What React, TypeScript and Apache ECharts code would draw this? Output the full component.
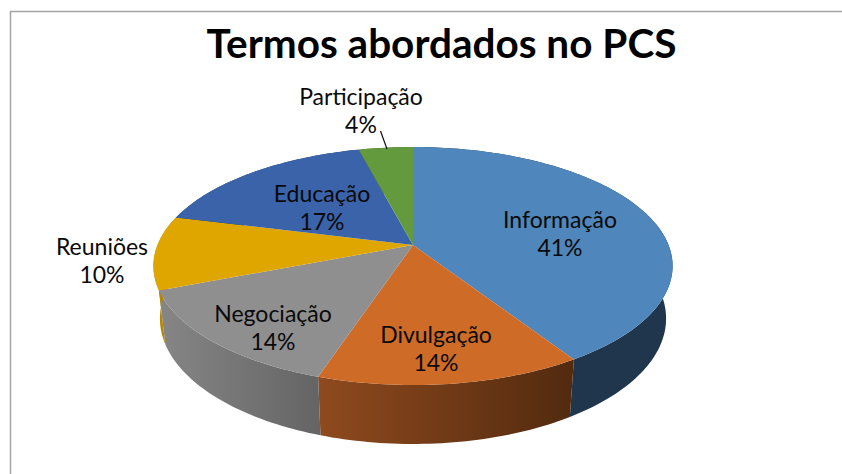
import React, { useEffect, useRef } from "react";
import * as echarts from "echarts";

const categories = ["Informação", "Divulgação", "Negociação", "Reuniões", "Educação", "Participação"];
const percents = [41, 14, 14, 10, 17, 4];

// Layout of the tilted pie (not data)
const CX = 413;
const CY = 245;
const RX = 255.5;
const RY = 115.3;
const PERSP = 0.1765;
const DEPTH = 51.4;
const BOTTOM_SX = 0.975;
const BOTTOM_SY = 1.054;

const topColors = ["#4F86BB", "#CE6B27", "#8F8F8F", "#E0A600", "#3A63A9", "#629A3D"];
const sideColors: any[] = [
  "#20364D",
  new echarts.graphic.LinearGradient(0, 0, 1, 0, [
    { offset: 0, color: "#8F4A1E" },
    { offset: 1, color: "#522A0F" },
  ]),
  new echarts.graphic.LinearGradient(0, 0, 1, 0, [
    { offset: 0, color: "#868686" },
    { offset: 1, color: "#646464" },
  ]),
  "#B58700",
  "#2A4679",
  "#47702C",
];
const labelCenters = [
  [560, 233],
  [436, 348],
  [273, 327],
  [102, 260],
  [322, 207],
  [361, 110],
];

function project(pct: number, bottom: boolean): number[] {
  const a = (pct / 100) * Math.PI * 2;
  const u = Math.sin(a);
  const v = -Math.cos(a);
  const s = 1 / (1 - PERSP * v);
  const x = RX * u * s;
  const y = RY * v * s;
  if (!bottom) return [CX + x, CY + y];
  return [CX + x * BOTTOM_SX, CY + DEPTH + y * BOTTOM_SY];
}

function arc(from: number, to: number, bottom: boolean): number[][] {
  const n = Math.max(8, Math.ceil((to - from) * 3));
  const pts: number[][] = [];
  for (let i = 0; i <= n; i++) pts.push(project(from + ((to - from) * i) / n, bottom));
  return pts;
}

const renderSlice = (params: any, api: any) => {
  const i = params.dataIndex;
  const total = percents.reduce((a, b) => a + b, 0);
  const before = percents.slice(0, i).reduce((a, b) => a + b, 0);
  const from = (before / total) * 100;
  const to = ((before + api.value(0)) / total) * 100;
  const top = arc(from, to, false);
  const bot = arc(from, to, true).reverse();
  const [lx, ly] = labelCenters[i];
  const children: any[] = [
    {
      type: "polygon",
      z2: 1,
      shape: { points: [...top, ...bot] },
      style: { fill: sideColors[i] },
    },
    {
      type: "polygon",
      z2: 2,
      shape: { points: [[CX, CY], ...top] },
      style: { fill: topColors[i] },
    },
    {
      type: "text",
      z2: 3,
      x: lx,
      y: ly,
      style: {
        text: `${categories[i]}\n${api.value(0)}%`,
        fill: "#0A0A0A",
        font: '23px Lato',
        lineHeight: 27.5,
        align: "center",
        verticalAlign: "middle",
      },
    },
  ];
  return { type: "group", children };
};

export default function App() {
  const ref = useRef<HTMLDivElement>(null);
  useEffect(() => {
    document.body.style.margin = "0";
    const chart = echarts.init(ref.current!, null, { renderer: "svg" });
    chart.setOption({
      animation: false,
      backgroundColor: "#FFFFFF",
      title: {
        text: "Termos abordados no PCS",
        left: 436.5,
        top: 17,
        textAlign: "center",
        textStyle: { fontFamily: "Lato", fontWeight: "bold", fontSize: 40.5, color: "#000000" },
      },
      graphic: [
        {
          type: "polyline",
          shape: { points: [[10.5, 474], [10.5, 11.5], [842, 11.5]] },
          style: { stroke: "#A3A3A3", lineWidth: 1.5, fill: "none" },
        },
        {
          type: "line",
          z: 10,
          shape: { x1: 380.5, y1: 131, x2: 387, y2: 149 },
          style: { stroke: "#111111", lineWidth: 1.2 },
        },
      ],
      series: [
        {
          type: "custom",
          coordinateSystem: "none",
          renderItem: renderSlice,
          data: percents.map((v, i) => ({ name: categories[i], value: [v] })),
          silent: true,
        },
      ],
    });
    return () => chart.dispose();
  }, []);
  return <div ref={ref} style={{ width: 842, height: 474 }} />;
}
